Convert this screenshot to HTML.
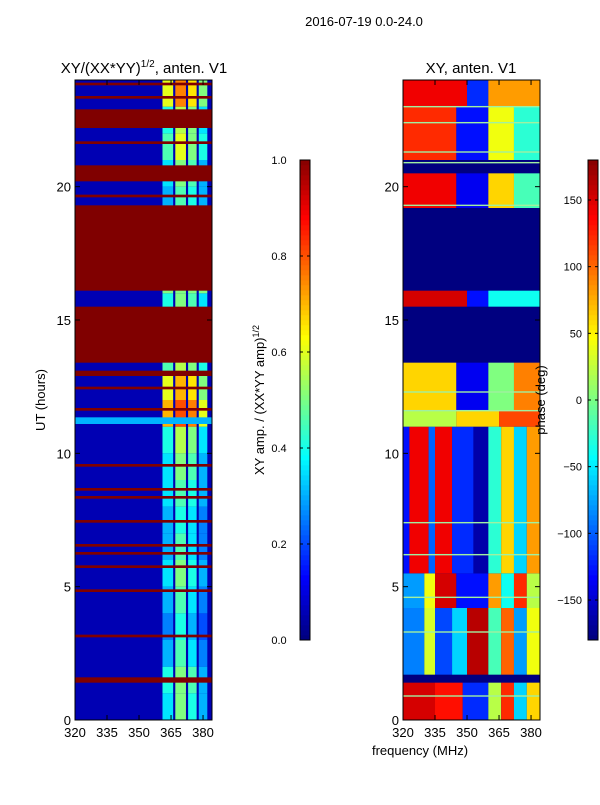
<!DOCTYPE html>
<html><head><meta charset="utf-8"><style>
body{margin:0;background:#fff;font-family:"Liberation Sans",sans-serif}
svg text{font-family:"Liberation Sans",sans-serif;fill:#000}
</style></head><body>
<svg id="c" width="600" height="800" xmlns="http://www.w3.org/2000/svg">
<rect width="600" height="800" fill="#fff"/>
<text x="364" y="26" font-size="13" text-anchor="middle">2016-07-19 0.0-24.0</text>
<text x="144" y="73" font-size="15" text-anchor="middle">XY/(XX*YY)<tspan font-size="10" dy="-6">1/2</tspan><tspan dy="6">, anten. V1</tspan></text>
<text x="471" y="73" font-size="15" text-anchor="middle">XY, anten. V1</text>
<text transform="translate(45,400) rotate(-90)" font-size="13" text-anchor="middle">UT (hours)</text>
<text x="420" y="755" font-size="13" text-anchor="middle">frequency (MHz)</text>
<text transform="translate(264,400) rotate(-90)" font-size="13" text-anchor="middle">XY amp. / (XX*YY amp)<tspan font-size="9" dy="-5">1/2</tspan></text>
<g id="left"></g>
<g id="right"></g>
<g id="cb"></g>
<g id="ax"></g>
<text transform="translate(545,400) rotate(-90)" font-size="13" text-anchor="middle">phase (deg)</text>
</svg>
<script>
// ---- data ----
const xTicks=[320,335,350,365,380];
const yTicks=[0,5,10,15,20];
const ampTicks=[0.0,0.2,0.4,0.6,0.8,1.0];
const phaseTicks=[-150,-100,-50,0,50,100,150];
const ampBackground=0.05;
const ampRedBands=[[1.4,1.6],[3.1,3.2],[4.8,4.9],[5.7,5.8],[6.2,6.3],[6.5,6.6],[7.4,7.5],[8.3,8.4],[8.6,8.7],[9.5,9.6],[11.6,11.7],[12.4,12.5],[12.9,13.1],[13.4,15.5],[16.1,19.3],[19.6,19.7],[20.2,20.8],[21.6,21.7],[22.2,22.9],[23.3,23.4],[23.8,23.9]];
const ampColFreqs=[[361,366],[367,372],[373,377],[378,382]];
// per hour, per column values
const ampColHourly=[
[0.35,0.5,0.4,0.3],[0.4,0.5,0.45,0.3],[0.3,0.45,0.35,0.25],[0.25,0.4,0.3,0.2],[0.3,0.45,0.35,0.25],[0.35,0.5,0.4,0.3],
[0.3,0.45,0.35,0.25],[0.3,0.4,0.35,0.25],[0.35,0.45,0.4,0.3],[0.35,0.5,0.45,0.3],[0.4,0.55,0.5,0.35],[0.7,0.8,0.75,0.6],
[0.6,0.7,0.65,0.5],[0.45,0.55,0.5,0.4],[0.5,0.5,0.5,0.5],[0.4,0.5,0.45,0.35],[0.5,0.5,0.5,0.5],[0.5,0.5,0.5,0.5],
[0.5,0.5,0.5,0.5],[0.3,0.45,0.4,0.3],[0.35,0.5,0.45,0.3],[0.45,0.6,0.5,0.4],[0.4,0.55,0.5,0.35],[0.6,0.75,0.65,0.5]];
const ampStripes=[[11.1,11.35,0.3]];
const phaseBackground=-180;
// blocks: [t0,t1,f0,f1,phase]
const phaseBlocks=[
[0,1.4,320,335,150],[0,1.4,335,348,130],[0,1.4,348,360,-120],[0,1.4,360,366,20],[0,1.4,366,372,120],[0,1.4,372,378,-60],[0,1.4,378,384,60],
[1.7,4.2,320,330,-90],[1.7,4.2,330,335,30],[1.7,4.2,335,343,-110],[1.7,4.2,343,350,-60],[1.7,4.2,350,360,160],[1.7,4.2,360,366,-20],[1.7,4.2,366,372,100],[1.7,4.2,372,378,-80],[1.7,4.2,378,384,40],
[4.2,5.5,320,330,-80],[4.2,5.5,330,335,40],[4.2,5.5,335,345,150],[4.2,5.5,345,360,-130],[4.2,5.5,360,366,80],[4.2,5.5,366,372,-40],[4.2,5.5,372,378,120],[4.2,5.5,378,384,20],
[5.5,11,320,323,-130],[5.5,11,323,332,140],[5.5,11,332,335,-100],[5.5,11,335,343,140],[5.5,11,343,353,-120],[5.5,11,353,360,-165],[5.5,11,360,366,-30],[5.5,11,366,372,60],[5.5,11,372,378,-60],[5.5,11,378,384,80],
[11,11.6,320,345,20],[11,11.6,345,365,60],[11,11.6,365,384,110],
[11.6,13.4,320,345,60],[11.6,13.4,345,360,-140],[11.6,13.4,360,372,0],[11.6,13.4,372,384,90],
[15.5,16.1,320,350,150],[15.5,16.1,350,360,-130],[15.5,16.1,360,384,-40],
[19.2,20.5,320,345,140],[19.2,20.5,345,360,-140],[19.2,20.5,360,372,60],[19.2,20.5,372,384,-20],
[21,23,320,345,120],[21,23,345,360,-130],[21,23,360,372,40],[21,23,372,384,-30],
[23,24,320,350,140],[23,24,350,360,-120],[23,24,360,384,80]];
const phaseLines=[0.9,3.3,4.6,6.2,7.4,11.6,12.3,19.3,20.9,21.3,22.4,23.0];

// ---- scales ----
const H0=720,H1=80,F0=320,F1=384.2;
const yS=t=>H0+(H1-H0)*t/24;
const xL=f=>75+(f-F0)*(212-75)/(F1-F0);
const xR=f=>403+(f-F0)*(540-403)/(F1-F0);
function jet(v){v=Math.max(0,Math.min(1,v));
 const c=x=>Math.round(255*Math.max(0,Math.min(1,1.5-Math.abs(x))));
 return `rgb(${c(4*v-3)},${c(4*v-2)},${c(4*v-1)})`;}
const pv=p=>(p+180)/360;
const NS='http://www.w3.org/2000/svg';
function rect(g,x,y,w,h,fill,name){const r=document.createElementNS(NS,'rect');
 r.setAttribute('x',x);r.setAttribute('y',y);r.setAttribute('width',Math.max(w,0.5));r.setAttribute('height',Math.max(h,0.6));r.setAttribute('fill',fill);
 
 
 g.appendChild(r);return r;}
function text(g,x,y,s,anchor,size,name){const t=document.createElementNS(NS,'text');
 t.setAttribute('x',x);t.setAttribute('y',y);t.setAttribute('text-anchor',anchor);t.setAttribute('font-size',size);t.textContent=s;
 
 
 g.appendChild(t);}
function line(g,x1,y1,x2,y2,name){const l=document.createElementNS(NS,'line');
 l.setAttribute('x1',x1);l.setAttribute('y1',y1);l.setAttribute('x2',x2);l.setAttribute('y2',y2);l.setAttribute('stroke','#000');
 
 
 g.appendChild(l);}
// ---- left ----
const L=document.getElementById('left');
rect(L,xL(F0),yS(24),xL(F1)-xL(F0),yS(0)-yS(24),jet(ampBackground),'amp-background');
ampColHourly.forEach((row,h)=>ampColFreqs.forEach(([a,b],j)=>rect(L,xL(a),yS(h+1),xL(b)-xL(a),yS(h)-yS(h+1),jet(row[j]),'amp-cell')));
ampStripes.forEach(([a,b,v])=>rect(L,xL(F0),yS(b),xL(F1)-xL(F0),yS(a)-yS(b),jet(v),'amp-stripe'));
ampRedBands.forEach(([a,b])=>rect(L,xL(F0),yS(b),xL(F1)-xL(F0),yS(a)-yS(b),jet(1),'amp-saturated-band'));
// ---- right ----
const R=document.getElementById('right');
rect(R,xR(F0),yS(24),xR(F1)-xR(F0),yS(0)-yS(24),jet(pv(phaseBackground)),'phase-background');
phaseBlocks.forEach(([a,b,f0,f1,p])=>rect(R,xR(f0),yS(b),xR(f1)-xR(f0),yS(a)-yS(b),jet(pv(p)),'phase-cell'));
phaseLines.forEach(t=>rect(R,xR(F0),yS(t)-0.7,xR(F1)-xR(F0),1.4,'#a0f0a0','phase-line'));
// ---- colorbars ----
const C=document.getElementById('cb');
for(let i=0;i<96;i++){const v=i/96;
 rect(C,300,640-(i+1)*5,10,5.3,jet(v),'amp-colorbar-segment');
 rect(C,588,640-(i+1)*5,10,5.3,jet(v),'phase-colorbar-segment');}
const A=document.getElementById('ax');
[[300,310],[588,598]].forEach(([a,b])=>{const r=rect(A,a,160,b-a,480,'none','colorbar-frame');r.setAttribute('stroke','#000');});
ampTicks.forEach(v=>{const y=640-v*480;line(A,300,y,303,y,'amp-tick');line(A,307,y,310,y,'amp-tick');text(A,279,y+4,v.toFixed(1),'middle',11,'amp-tick-label');});
phaseTicks.forEach(v=>{const y=400-v*480/360;line(A,588,y,591,y,'phase-tick');line(A,595,y,598,y,'phase-tick');text(A,582,y+4,(v<0?'\u2212':'')+Math.abs(v),'end',11,'phase-tick-label');});
// ---- axes ----
[[xL,75,212],[xR,403,540]].forEach(([xs,a,b])=>{
 const r=rect(A,a,80,b-a,640,'none','panel-frame');r.setAttribute('stroke','#000');
 xTicks.forEach(f=>{line(A,xs(f),720,xs(f),715,'x-tick');line(A,xs(f),80,xs(f),85,'x-tick');text(A,xs(f),737,String(f),'middle',13,'x-tick-label');});
 yTicks.forEach(t=>{line(A,a,yS(t),a+5,yS(t),'y-tick');line(A,b,yS(t),b-5,yS(t),'y-tick');text(A,a-4,yS(t)+5,String(t),'end',13,'y-tick-label');});
});
</script>
</body></html>
